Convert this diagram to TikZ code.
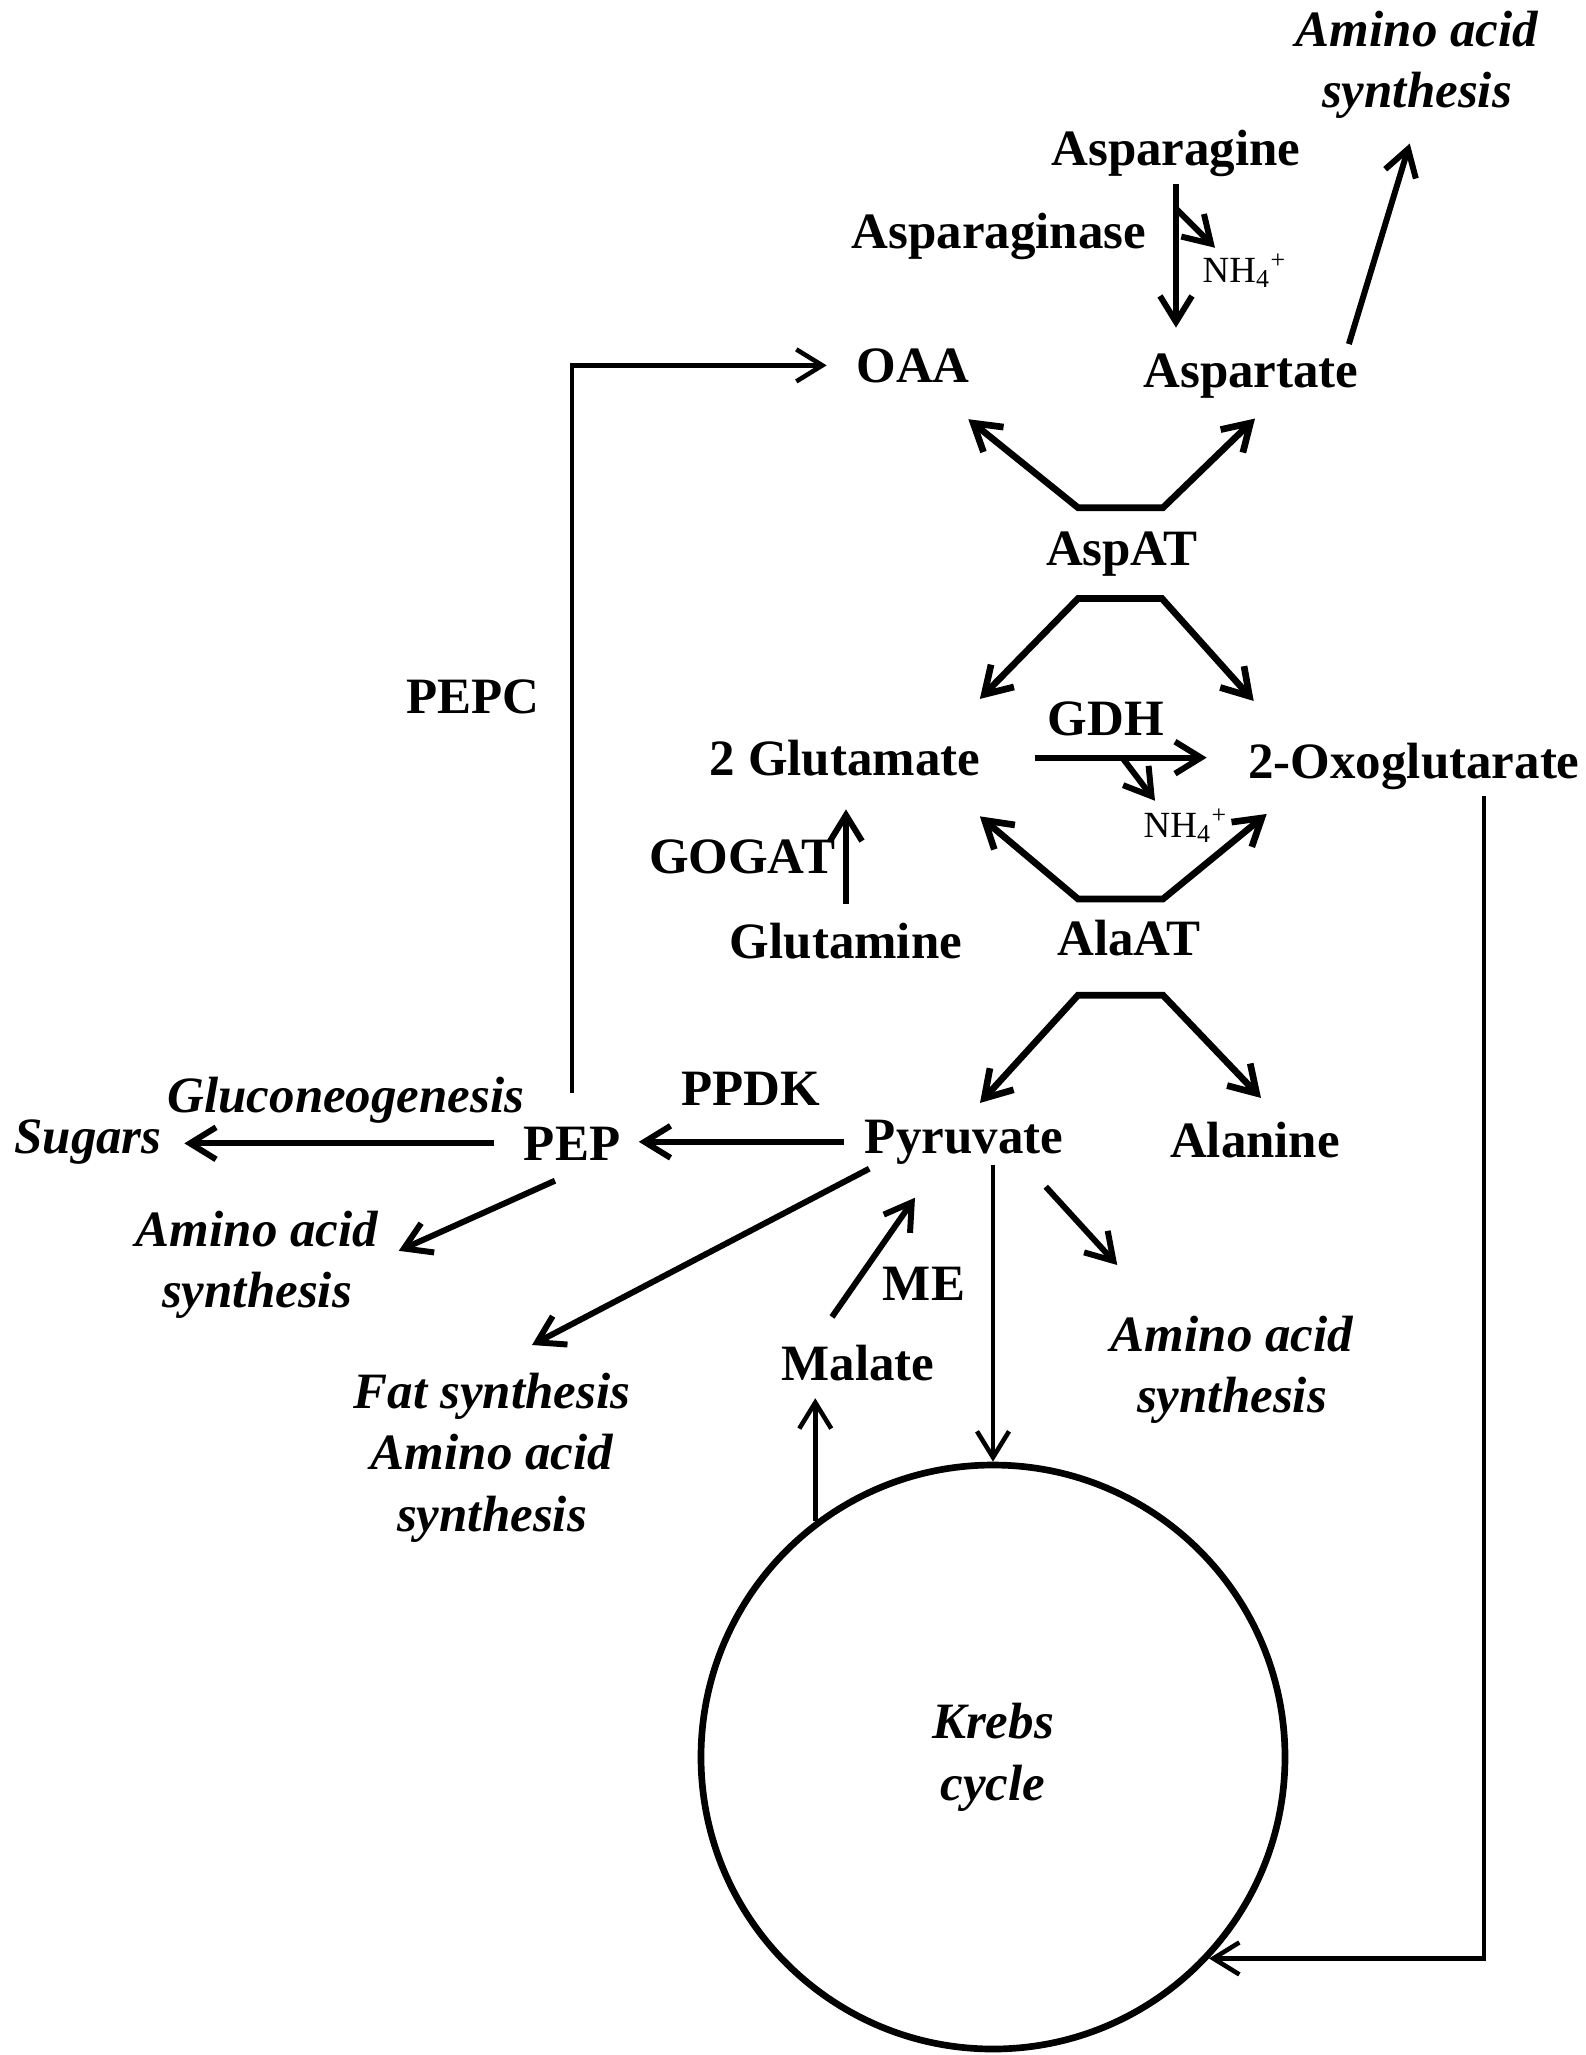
\documentclass[tikz,border=0pt]{standalone}
\usepackage{fontspec}
\setmainfont{Liberation Serif}
\usepackage{tikz}
\usetikzlibrary{arrows.meta,calc}
\tikzstyle{metab}=[font=\fontsize{14.5}{17.6}\selectfont\bfseries, inner sep=0pt, anchor=base]
\tikzstyle{fate}=[font=\fontsize{14.5}{17.6}\selectfont\bfseries\itshape, inner sep=0pt, align=center, anchor=north]
\tikzstyle{ion}=[font=\fontsize{10.5}{12}\selectfont, inner sep=0pt, anchor=base west]
\tikzstyle{flux}=[line width=1.7pt, -{Straight Barb[length=2.6mm,width=3.2mm]}]
\tikzstyle{thinflux}=[line width=1.3pt, -{Straight Barb[length=2.6mm,width=3.2mm]}]
\tikzstyle{transam}=[line width=1.9pt, {Straight Barb[length=2.6mm,width=3.2mm]}-{Straight Barb[length=2.6mm,width=3.2mm]}]
\begin{document}
\begin{tikzpicture}[x=0.1mm, y=-0.1mm]
	\useasboundingbox (0,0) rectangle (1585,2055);
	\node[fate] (aasTop) at (1417,10) {Amino acid\\synthesis};
	\node[metab] (asn) at (1176,165) {Asparagine};
	\node[metab] (asnase) at (999,248) {Asparaginase};
	\node[ion] (nhA) at (1202,282) {NH\textsubscript{4}\textsuperscript{+}};
	\node[metab] (oaa) at (913,382) {OAA};
	\node[metab] (asp) at (1251,387) {Aspartate};
	\node[metab] (aspat) at (1122,565) {AspAT};
	\node[metab] (gdh) at (1106,735) {GDH};
	\node[metab] (glu) at (845,775) {2 Glutamate};
	\node[metab] (oxo) at (1414,778) {2-Oxoglutarate};
	\node[ion] (nhB) at (1143,837) {NH\textsubscript{4}\textsuperscript{+}};
	\node[metab] (gogat) at (742,873) {GOGAT};
	\node[metab] (alaat) at (1129,955) {AlaAT};
	\node[metab] (gln) at (846,958) {Glutamine};
	\node[metab] (pepc) at (473,713) {PEPC};
	\node[metab] (ppdk) at (751,1105) {PPDK};
	\node[fate, anchor=base] (gluco) at (346,1112) {Gluconeogenesis};
	\node[fate, anchor=base] (sugars) at (88,1153) {Sugars};
	\node[metab] (pep) at (572,1160) {PEP};
	\node[metab] (pyr) at (964,1153) {Pyruvate};
	\node[metab] (ala) at (1255,1157) {Alanine};
	\node[fate] (aasPep) at (257,1210) {Amino acid\\synthesis};
	\node[metab] (me) at (924,1300) {ME};
	\node[fate] (aasPyr) at (1232,1315) {Amino acid\\synthesis};
	\node[fate] (fat) at (492,1372) {Fat synthesis\\Amino acid\\synthesis};
	\node[metab] (mal) at (858,1380) {Malate};
	\node[draw, circle, line width=1.9pt, minimum size=58.4mm, inner sep=0pt, align=center, font=\fontsize{14.5}{17.6}\selectfont\bfseries\itshape] (krebs) at (993,1757) {Krebs\\cycle};
	\draw[flux, shorten <=0.7mm, shorten >=2.5mm] (asn.south) -- coordinate[pos=0.18] (brA) (asn.south |- asp.north);
	\draw[flux] (brA) -- ($(nhA.north west)+(13,-5)$);
	\draw[flux, shorten <=0.9mm, shorten >=2.5mm] ($(asp.north east)+(-13,0)$) -- (aasTop.south);
	\draw[thinflux, shorten <=3.3mm, shorten >=2.9mm] (pep.north) |- (oaa.west);
	\coordinate (aspTL) at ($(aspat.north)+(-44,-23)$);
	\coordinate (aspTR) at ($(aspat.north)+(41,-23)$);
	\draw[transam] ($(oaa.south east)+(-2,36)$) -- (aspTL) -- (aspTR) -- ($(asp.south)+(4,20)$);
	\coordinate (aspBL) at ($(aspat.south)+(-44,22)$);
	\coordinate (aspBR) at ($(aspat.south)+(40,22)$);
	\draw[transam] ($(glu.north east)+(-1,-40)$) -- (aspBL) -- (aspBR) -- ($(oxo.north west)+(6,-41)$);
	\draw[flux, shorten <=5.4mm, shorten >=4.1mm] (glu.east) -- coordinate[pos=0.53] (brB) (glu.east -| oxo.west);
	\draw[flux] (brB) -- ($(nhB.north west)+(12,-7)$);
	\coordinate (alaTL) at ($(alaat.north)+(-51,-20)$);
	\coordinate (alaTR) at ($(alaat.north)+(34,-20)$);
	\draw[transam] ($(glu.south east)+(-1,40)$) -- (alaTL) -- (alaTR) -- ($(oxo.south west)+(19,24)$);
	\coordinate (alaBL) at ($(alaat.south)+(-51,39)$);
	\coordinate (alaBR) at ($(alaat.south)+(34,39)$);
	\draw[transam] ($(pyr.north)+(16,-16)$) -- (alaBL) -- (alaBR) -- ($(ala.north)+(6,-23)$);
	\draw[flux, shorten <=1.8mm, shorten >=3.3mm] (gln.north) -- (gln.north |- glu.south);
	\draw[flux, shorten <=2mm, shorten >=1.8mm] (pyr.west) -- (pyr.west -| pep.east);
	\draw[flux, shorten <=2.9mm, shorten >=2.2mm] (pep.west) -- (pep.west -| sugars.east);
	\draw[flux] ($(pep.south)+(-17,20)$) -- ($(aasPep.east)+(20,-14)$);
	\draw[flux] ($(pyr.south west)+(5,4)$) -- ($(fat.north)+(40,-27)$);
	\draw[flux] ($(mal.north)+(-26,-27)$) -- ($(pyr.south)+(-49,33)$);
	\draw[thinflux] (krebs.north |- pyr.south) -- (krebs.north);
	\draw[thinflux, shorten >=1.7mm] (krebs.127.3) -- (krebs.127.3 |- mal.south);
	\draw[flux] ($(pyr.south east)+(-18,22)$) -- ($(aasPyr.north west)+(7,-50)$);
	\draw[thinflux] ($(oxo.south)+(70,6)$) |- (krebs.-43.8);
\end{tikzpicture}
\end{document}
